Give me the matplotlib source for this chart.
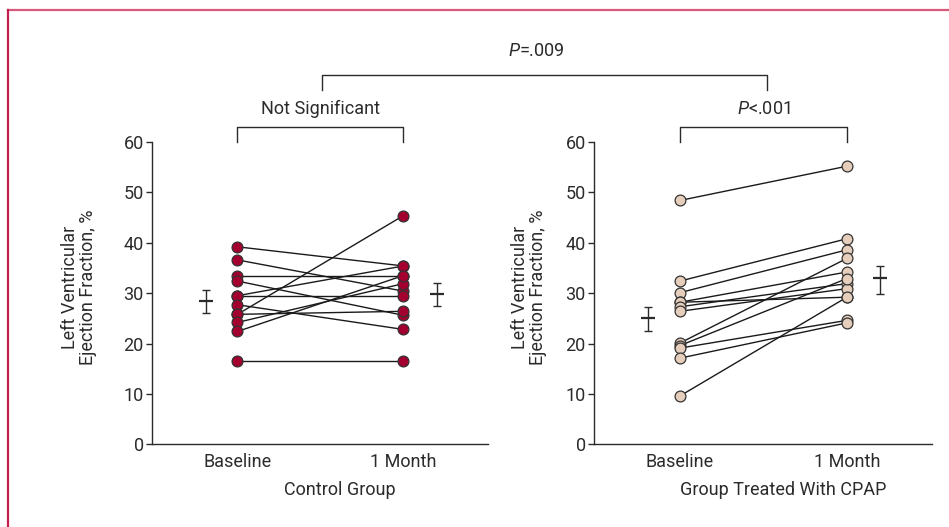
import matplotlib.pyplot as plt
import matplotlib.transforms as mtransforms
from matplotlib.lines import Line2D

plt.rcParams['font.family'] = ['Roboto', 'DejaVu Sans']
plt.rcParams['mathtext.fontset'] = 'custom'
plt.rcParams['mathtext.rm'] = 'Roboto'
plt.rcParams['mathtext.it'] = 'Roboto:italic'

# data (LVEF, %)
timepoints = ['Baseline', '1 Month']
control_base = [39.2, 36.6, 33.5, 32.4, 29.5, 29.5, 27.7, 25.8, 25.8, 24.2, 22.4, 16.5]
control_month = [35.4, 30.4, 33.5, 25.6, 35.4, 29.5, 22.8, 45.4, 26.4, 31.9, 33.5, 16.5]
cpap_base = [48.4, 32.4, 30.1, 28.2, 28.2, 27.3, 26.4, 20.1, 19.6, 19.1, 17.1, 9.6]
cpap_month = [55.2, 40.8, 38.6, 34.2, 29.2, 31.9, 30.9, 36.9, 32.9, 24.6, 24.1, 29.2]

# mean and error bar ends, [baseline, 1 month]
control_mean = [28.4, 29.8]
control_lo = [26.0, 27.5]
control_hi = [30.7, 32.1]
cpap_mean = [25.0, 33.1]
cpap_lo = [22.5, 29.8]
cpap_hi = [27.3, 35.4]

group_names = ['Control Group', 'Group Treated With CPAP']
within_p = ['Not Significant', '$P$<.001']
between_p = '$P$=.009'

ink = '#2b2b2b'
fs = 13
fig = plt.figure(figsize=(9.49, 5.27), dpi=100)
ax1 = fig.add_axes([0.1602, 0.1569, 0.3541, 0.5736])
ax2 = fig.add_axes([0.6259, 0.1569, 0.3562, 0.5736])


def panel(ax, base, month, mean, lo, hi, face, name, ptxt, ylx):
    for b, m in zip(base, month):
        ax.plot([1, 2], [b, m], color='#1a1a1a', lw=1.0, zorder=2)
    ax.plot([1] * len(base), base, 'o', ms=7.8, mfc=face, mec='#333333', mew=0.9, zorder=3, clip_on=False)
    ax.plot([2] * len(month), month, 'o', ms=7.8, mfc=face, mec='#333333', mew=0.9, zorder=3, clip_on=False)
    ex = [0.81, 2.2]
    for x, mu, l, h in zip(ex, mean, lo, hi):
        ax.errorbar([x], [mu], yerr=[[mu - l], [h - mu]], fmt='none', ecolor=ink,
                    elinewidth=1.0, capsize=3.2, capthick=1.0)
        ax.plot([x], [mu], marker='_', ms=10, mew=1.6, color=ink)
    ax.set_xlim(0.485, 2.51)
    ax.set_ylim(0, 60)
    ax.set_yticks(range(0, 61, 10))
    ax.set_xticks([1, 2])
    ax.set_xticklabels(timepoints)
    off = mtransforms.ScaledTranslation(16 / 100, 0, fig.dpi_scale_trans)
    for lab in ax.get_xticklabels():
        lab.set_transform(lab.get_transform() + off)
    for s in ['top', 'right']:
        ax.spines[s].set_visible(False)
    for s in ['left', 'bottom']:
        ax.spines[s].set_color(ink)
        ax.spines[s].set_linewidth(1.0)
    ax.tick_params(axis='x', length=0, pad=6, labelsize=fs, labelcolor=ink)
    ax.tick_params(axis='y', length=4, width=1.0, color=ink, pad=2, labelsize=fs, labelcolor=ink)
    ax.set_ylabel('Left Ventricular\nEjection Fraction, %', fontsize=fs, color=ink, linespacing=1.0)
    ax.yaxis.set_label_coords(ylx, 0.52)
    ax.set_xlabel(name, fontsize=fs, color=ink)
    ax.xaxis.set_label_coords(0.56, -0.12)
    # within-group bracket
    ax.plot([1, 1, 2, 2], [60.1, 63.0, 63.0, 60.1], color=ink, lw=1.0, clip_on=False)
    ax.text(1.5, 66.5, ptxt, ha='center', va='center', fontsize=fs, color=ink)


panel(ax1, control_base, control_month, control_mean, control_lo, control_hi,
      '#a3002f', group_names[0], within_p[0], -0.165)
panel(ax2, cpap_base, cpap_month, cpap_mean, cpap_lo, cpap_hi,
      '#e6cebc', group_names[1], within_p[1], -0.14)

# between-group bracket
fig.add_artist(Line2D([0.339, 0.339, 0.8087, 0.8087], [0.830, 0.8577, 0.8577, 0.830],
                      color=ink, lw=1.0))
fig.text(0.565, 0.903, between_p, ha='center', va='center', fontsize=fs, color=ink)

# journal frame (top and left only)
fig.add_artist(Line2D([0.0088, 1.0], [0.981, 0.981], color='#d65a7c', lw=1.6))
fig.add_artist(Line2D([0.0088, 0.0088], [0.0, 0.981], color='#c41e4f', lw=1.6))

fig.savefig('out.png', dpi=100)
